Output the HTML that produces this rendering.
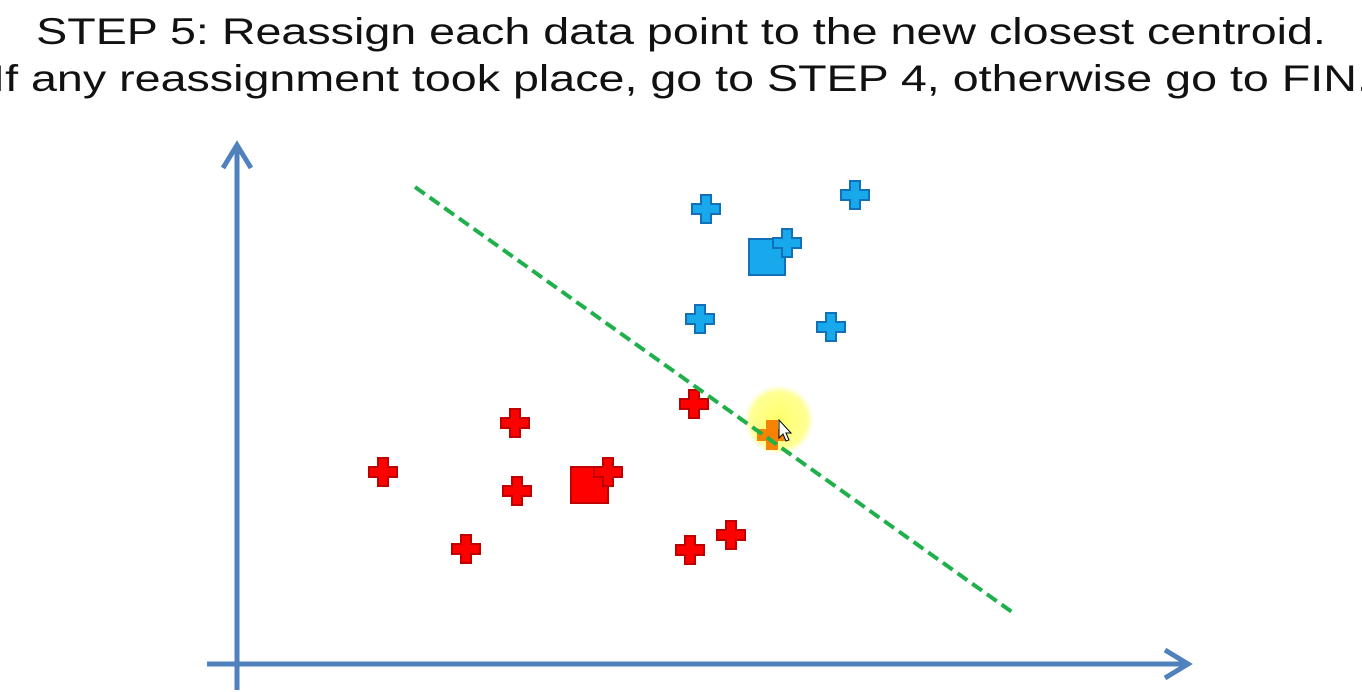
<!DOCTYPE html>
<html><head><meta charset="utf-8"><style>
html,body{margin:0;padding:0;background:#fff;width:1362px;height:692px;overflow:hidden}
.t{position:absolute;left:0;width:1362px;text-align:center;font-family:"Liberation Sans",sans-serif;font-size:37px;color:#111;white-space:nowrap;transform:scaleX(1.26);transform-origin:681px 0}
</style></head><body>
<div class="t" style="top:11px">STEP 5: Reassign each data point to the new closest centroid.</div>
<div class="t" style="top:58px">If any reassignment took place, go to STEP 4, otherwise go to FIN.</div>
<svg id="c" width="1362" height="692" style="position:absolute;left:0;top:0">
<defs>
<radialGradient id="glow"><stop offset="0" stop-color="#ffff60" stop-opacity="0.95"/><stop offset="0.8" stop-color="#ffff80" stop-opacity="0.85"/><stop offset="1" stop-color="#ffffa0" stop-opacity="0"/></radialGradient>
</defs>
</svg>
<script>
const blueX=[469,618,550,463,594];
const blueY=[455,469,421,345,337];
const redX=[278,146,280,229,457,453,494,371];
const redY=[241,192,173,115,260,114,129,192];
const blueCentroid=[530,407];
const redCentroid=[352,179];
const orangePoint=[535,229];
const boundary=[[178,477],[775,52]];

const X=v=>237+v, Y=v=>664-v;
const svg=document.getElementById('c');
const NS='http://www.w3.org/2000/svg';
function mk(t,a){const e=document.createElementNS(NS,t);for(const k in a)e.setAttribute(k,a[k]);svg.appendChild(e);return e;}
function cross(cx,cy,fill,stroke){
 const s=14,w=5;
 const d=`M${cx-w},${cy-s}H${cx+w}V${cy-w}H${cx+s}V${cy+w}H${cx+w}V${cy+s}H${cx-w}V${cy+w}H${cx-s}V${cy-w}H${cx-w}Z`;
 return mk('path',{d,fill,stroke,'stroke-width':2});
}
let e=mk('line',{x1:237,y1:690,x2:237,y2:150,stroke:'#4f81bd','stroke-width':5});

e=mk('path',{d:'M223,168L237,145L251,168',fill:'none',stroke:'#4f81bd','stroke-width':5});

e=mk('line',{x1:207,y1:664,x2:1183,y2:664,stroke:'#4f81bd','stroke-width':5});

e=mk('path',{d:'M1165,650L1188,664L1165,678',fill:'none',stroke:'#4f81bd','stroke-width':5});

e=mk('rect',{x:X(blueCentroid[0])-18,y:Y(blueCentroid[1])-18,width:36,height:36,fill:'#18a8ec',stroke:'#1270b8','stroke-width':2});

e=mk('rect',{x:X(redCentroid[0])-18,y:Y(redCentroid[1])-18,width:37,height:36,fill:'#ff0000',stroke:'#c00000','stroke-width':2});

blueX.forEach((v,i)=>{const p=cross(X(v),Y(blueY[i]),'#18a8ec','#1270b8');
 });
redX.forEach((v,i)=>{const p=cross(X(v),Y(redY[i]),'#ff0000','#c00000');
 });
e=mk('circle',{cx:X(orangePoint[0])+7,cy:Y(orangePoint[1])-15,r:35,fill:'url(#glow)'});

e=cross(X(orangePoint[0]),Y(orangePoint[1]),'#f58200','#f58200');

e=mk('line',{x1:X(boundary[0][0]),y1:Y(boundary[0][1]),x2:X(boundary[1][0]),y2:Y(boundary[1][1]),stroke:'#1fb04c','stroke-width':4,'stroke-dasharray':'12,6'});

e=mk('path',{d:'M779,420L779,438L783,434L786,441L789,440L786,433L791,433Z',fill:'#fff',stroke:'#000','stroke-width':1});

</script>
</body></html>
